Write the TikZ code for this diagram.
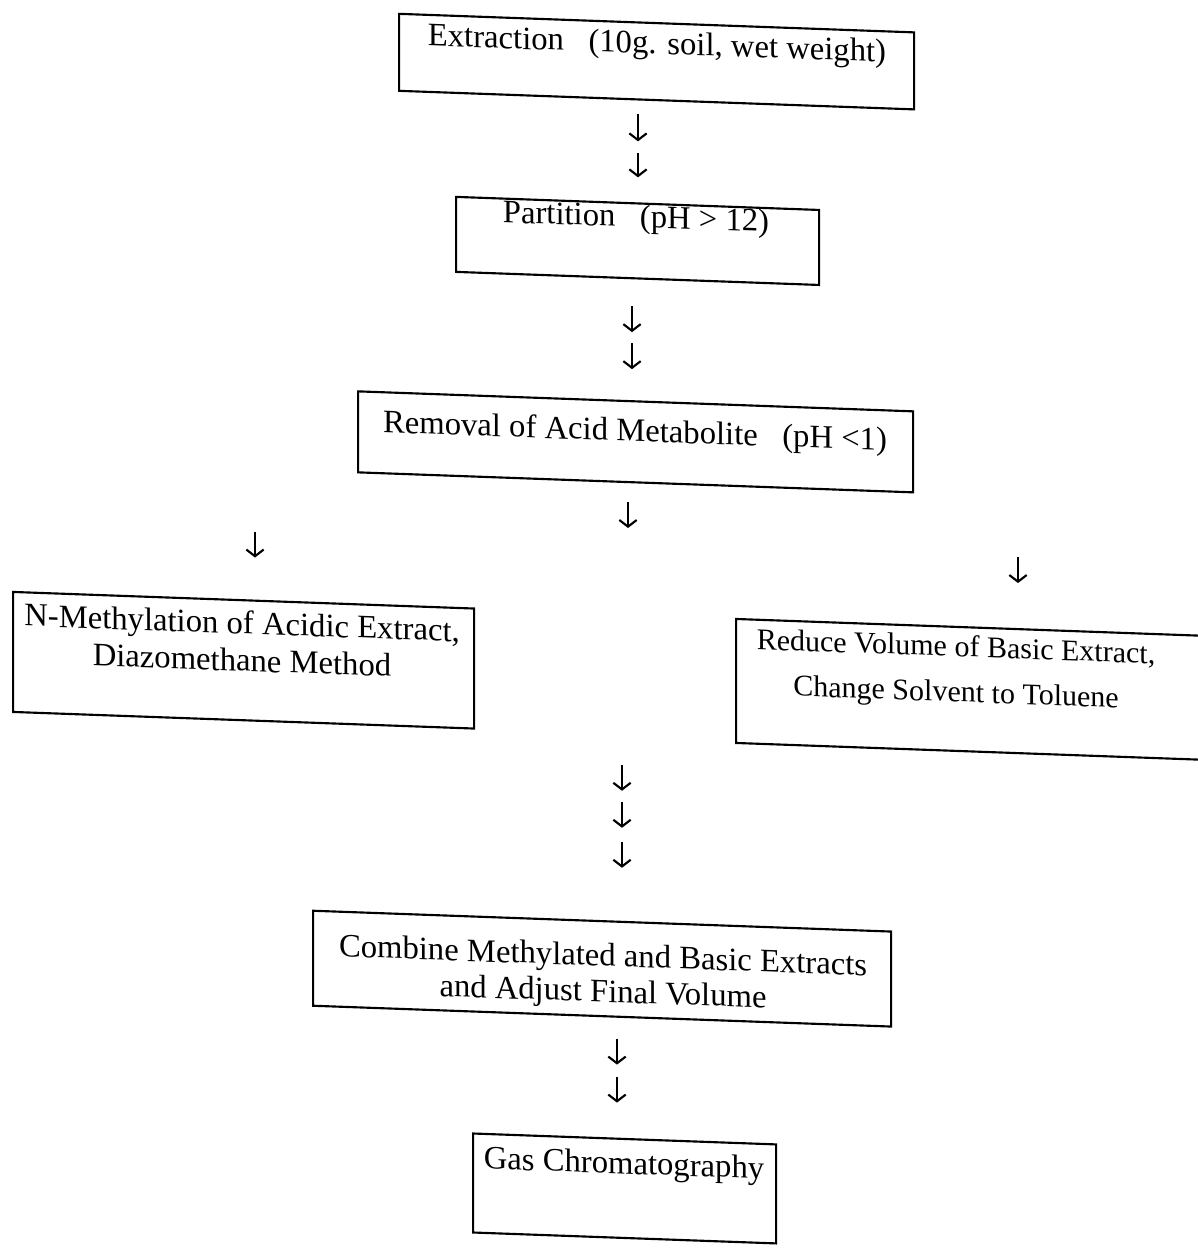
\documentclass[tikz,border=0pt]{standalone}
\usepackage{fontspec}
\setmainfont{Liberation Serif}
\usetikzlibrary{arrows.meta}
\begin{document}
\begin{tikzpicture}[x=0.75pt,y=-0.75pt,
  box/.style={draw, line width=1.6pt, rectangle, inner sep=0pt, anchor=north west},
  txt/.style={font=\fontsize{24.5}{27}\selectfont, align=center, inner sep=0pt},
  arr/.style={line width=1.6pt, -{Straight Barb[length=5pt,width=13pt]}}]
\useasboundingbox (0,0) rectangle (1198,1258);
\clip (0,0) rectangle (1198,1258);
\begin{scope}[cm={1,-0.036,0,1,(0pt,16.2pt)}, transform shape]
% boxes
\node[box, minimum width=386.25pt, minimum height=57.75pt] (b1) at (398,20) {};
\node[box, minimum width=272.25pt, minimum height=56.25pt] (b2) at (455,201) {};
\node[box, minimum width=416.25pt, minimum height=60.75pt] (b3) at (357,399) {};
\node[box, minimum width=345.75pt, minimum height=90pt] (b4) at (12,612) {};
\node[box, minimum width=360pt, minimum height=93pt] (b5) at (735,613) {};
\node[box, minimum width=433.5pt, minimum height=71.25pt] (b6) at (312,920) {};
\node[box, minimum width=227.25pt, minimum height=74.25pt] (b7) at (472,1137) {};
% texts
\node[txt] (t1) at (657,44) {Extraction\hspace{0.5em} (10g. soil, wet weight)};
\node[txt] (t2) at (636,218) {Partition\hspace{0.5em} (pH > 12)};
\node[txt] (t3) at (635,432) {Removal of Acid Metabolite\hspace{0.5em} (pH <1)};
\node[txt] (t4) at (242,654) {N-Methylation of Acidic Extract,\\[1pt] Diazomethane Method};
\node[txt, font=\fontsize{22.5}{26}\selectfont] (t5) at (956,659) {Reduce Volume of Basic Extract,\\[8pt] Change Solvent to Toluene};
\node[txt] (t6) at (603,976) {Combine Methylated and Basic Extracts\\ and Adjust Final Volume};
\node[txt] (t7) at (624,1165) {Gas Chromatography};
% arrows
\coordinate (a1s) at (638,113); \coordinate (a1e) at (638,140);
\coordinate (a2s) at (638,152); \coordinate (a2e) at (638,176);
\coordinate (a3s) at (632,305); \coordinate (a3e) at (632,331);
\coordinate (a4s) at (632,342); \coordinate (a4e) at (632,368);
\coordinate (a5s) at (628,501); \coordinate (a5e) at (628,527);
\coordinate (a6s) at (255,544); \coordinate (a6e) at (255,570);
\coordinate (a7s) at (1018,542); \coordinate (a7e) at (1018,568);
\coordinate (a8s) at (622,764); \coordinate (a8e) at (622,790);
\coordinate (a9s) at (622,801); \coordinate (a9e) at (622,827);
\coordinate (a10s) at (622,841); \coordinate (a10e) at (622,867);
\coordinate (a11s) at (617,1038); \coordinate (a11e) at (617,1064);
\coordinate (a12s) at (617,1076); \coordinate (a12e) at (617,1102);
\foreach \i in {1,...,12} {\draw[arr] (a\i s) -- (a\i e);}
\end{scope}
\end{tikzpicture}
\end{document}
